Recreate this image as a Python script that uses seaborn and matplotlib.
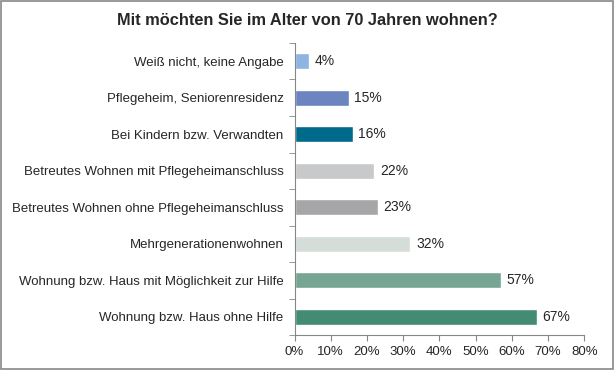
import seaborn as sns
import matplotlib.pyplot as plt
import matplotlib.patches as mpatches
import pandas as pd
from matplotlib.ticker import FixedLocator

categories = [
    "Weiß nicht, keine Angabe",
    "Pflegeheim, Seniorenresidenz",
    "Bei Kindern bzw. Verwandten",
    "Betreutes Wohnen mit Pflegeheimanschluss",
    "Betreutes Wohnen ohne Pflegeheimanschluss",
    "Mehrgenerationenwohnen",
    "Wohnung bzw. Haus mit Möglichkeit zur Hilfe",
    "Wohnung bzw. Haus ohne Hilfe",
]
values = [4, 15, 16, 22, 23, 32, 57, 67]
colors = ["#8DB4E2", "#6C84C0", "#006A8A", "#C8C9CB",
          "#A6A6A8", "#D5DDD8", "#76A593", "#448B74"]
xticks = [0, 10, 20, 30, 40, 50, 60, 70, 80]

df = pd.DataFrame({"cat": categories, "val": values})

sns.set_style("white")
plt.rcParams['font.family'] = ['Liberation Sans', 'DejaVu Sans']

fig = plt.figure(figsize=(6.15, 3.7), dpi=100)
ax = fig.add_axes([0.479, 0.094, 0.471, 0.79])

sns.barplot(data=df, y="cat", x="val", hue="cat", palette=colors,
            legend=False, width=0.44, saturation=1, ax=ax)

for c in ax.containers:
    ax.bar_label(c, labels=["{:.0f}%".format(v) for v in c.datavalues],
                 padding=4, fontsize=10)

ax.set_xlim(0, 80)
ax.set_ylim(len(categories) - 0.5, -0.5)
ax.set_xticks(xticks)
ax.set_xticklabels(["{}%".format(t) for t in xticks], fontsize=9.5)
ax.set_yticks(range(len(categories)))
ax.set_yticklabels(categories, fontsize=9.5)
ax.tick_params(axis="y", which="major", left=False, length=0, pad=8)
ax.tick_params(axis="x", bottom=True, length=4, color="#868686",
               direction="out", pad=4)
# small ticks between the categories on the y axis
ax.yaxis.set_minor_locator(FixedLocator([i - 0.5 for i in range(len(categories) + 1)]))
ax.tick_params(axis="y", which="minor", left=True, length=4,
               color="#868686", direction="out")
ax.set_xlabel("")
ax.set_ylabel("")
for s in ["top", "right"]:
    ax.spines[s].set_visible(False)
for s in ["left", "bottom"]:
    ax.spines[s].set_color("#868686")
    ax.spines[s].set_linewidth(0.8)

fig.text(0.5, 0.945, "Mit möchten Sie im Alter von 70 Jahren wohnen?",
         ha="center", va="center", fontsize=11.8, fontweight="bold")

fig.patches.append(mpatches.Rectangle((0.002, 0.003), 0.995, 0.993,
                                      transform=fig.transFigure, fill=False,
                                      edgecolor="#888888", linewidth=1.2))

fig.savefig("out.png", dpi=100)
